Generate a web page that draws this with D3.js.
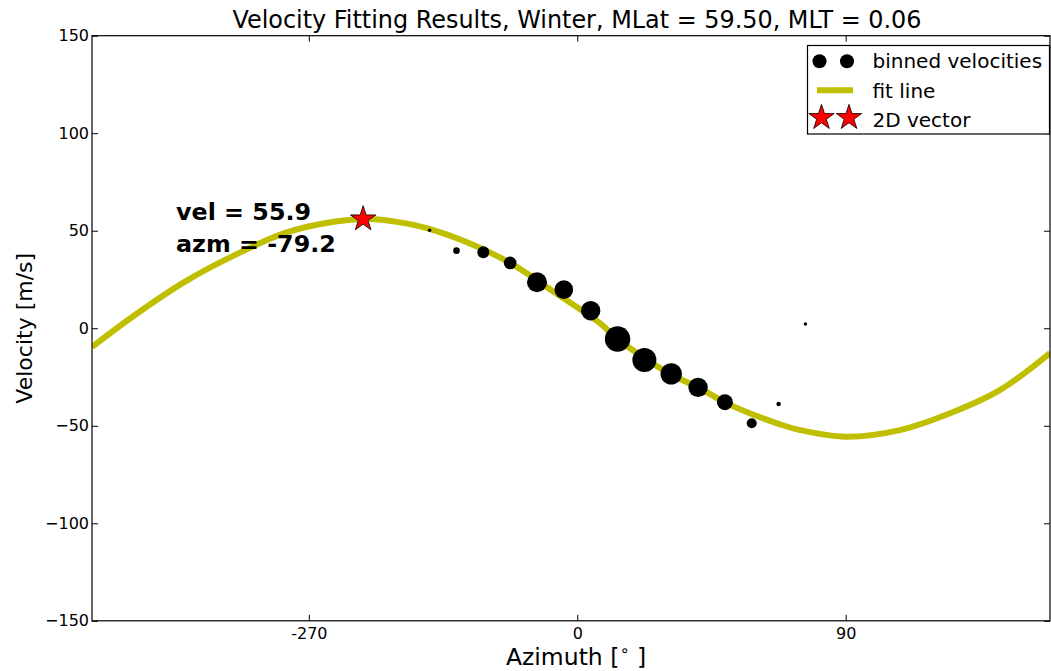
<!DOCTYPE html>
<html>
<head>
<meta charset="utf-8">
<script src="https://cdn.jsdelivr.net/npm/d3@7"></script>
<style>
  body { margin: 0; background: #fff; }
  text { font-family: "DejaVu Sans", sans-serif; }
</style>
</head>
<body>
<div id="canvas"></div>
<script>
"use strict";

/* Data */
let binAzimuth = [-49.5, -40.5, -31.5, -22.5, -13.5, -4.5, 4.5, 13.5, 22.5, 31.5, 40.5, 49.5, 58.5, 67.5, 76.5];
let binVelocity = [50.3, 39.8, 39.0, 33.5, 23.6, 19.8, 9.0, -5.5, -16.3, -23.4, -30.3, -37.9, -48.7, -38.8, 2.2];
let binCount = [3, 11, 36, 40, 100, 87, 94, 161, 144, 114, 94, 64, 25, 5, 3];

let fitAzimuth = [-162.7, -148.3, -131.5, -114.7, -97.9, -81.1, -70, -60, -50.5, -34.8, -21.4, -8, 7.6, 13.2, 30, 40.5, 49.5, 58.5, 67.5, 74.7, 89.8, 108.2, 125, 141.8, 158.5];
let fitVelocity = [-9.6, 6.8, 23.9, 37.6, 48.9, 54.7, 56.0, 54.4, 51.3, 42.7, 32.5, 18.8, 2.6, -5.1, -22.5, -30.3, -38, -44, -49, -52.2, -55.6, -52.2, -43.6, -31.6, -12.7];

let vectorAzimuth = [-71.8];
let vectorVelocity = [56.0];

let xTickValues = [-90, 0, 90];
let xTickLabels = ["-270", "0", "90"];
let yTickValues = [-150, -100, -50, 0, 50, 100, 150];

let titleText = "Velocity Fitting Results, Winter, MLat = 59.50, MLT = 0.06";
let noteLines = ["vel = 55.9", "azm = -79.2"];

/* Drawing setup */
let svgWidth = 1051;
let svgHeight = 671;
let plotLeft = 92, plotRight = 1050, plotTop = 35.7, plotBottom = 620.8;
let fitColor = "#bfbf00";

let svg = d3.select("#canvas")
  .append("svg")
  .attr("width", svgWidth)
  .attr("height", svgHeight);

let xScale = d3.scaleLinear()
  .domain([-162.7, 158.5])
  .range([plotLeft, plotRight]);

let yScale = d3.scaleLinear()
  .domain([-150, 150])
  .range([plotBottom, plotTop]);

let rScale = d3.scaleSqrt()
  .domain([0, d3.max(binCount)])
  .range([0, 12.7]);

svg.append("clipPath").attr("id", "plotClip")
  .append("rect")
  .attr("x", plotLeft).attr("y", plotTop)
  .attr("width", plotRight - plotLeft).attr("height", plotBottom - plotTop);

let plot = svg.append("g").attr("clip-path", "url(#plotClip)");

/* Fit line */
let fitData = fitAzimuth.map((a, i) => ({ az: a, v: fitVelocity[i] }));
plot.append("path")
  .datum(fitData)
  .attr("fill", "none")
  .attr("stroke", fitColor)
  .attr("stroke-width", 6)
  .attr("d", d3.line().curve(d3.curveCatmullRom).x(d => xScale(d.az)).y(d => yScale(d.v)));

/* Binned velocities */
let binData = binAzimuth.map((a, i) => ({ az: a, v: binVelocity[i], n: binCount[i] }));
plot.selectAll("circle.bin")
  .data(binData)
  .join("circle")
  .attr("class", "bin")
  .attr("cx", d => xScale(d.az))
  .attr("cy", d => yScale(d.v))
  .attr("r", d => rScale(d.n))
  .attr("fill", "black");

/* Star marker */
let starPath = d3.symbol().type(d3.symbolStar).size(200);
plot.selectAll("path.vec")
  .data(vectorAzimuth)
  .join("path")
  .attr("class", "vec")
  .attr("transform", (d, i) => `translate(${xScale(d)},${yScale(vectorVelocity[i])})`)
  .attr("d", starPath)
  .attr("fill", "red")
  .attr("stroke", "black")
  .attr("stroke-width", 0.8);

/* Annotation */
noteLines.forEach((t, i) => {
  svg.append("text")
    .attr("x", 176)
    .attr("y", 219.5 + i * 32)
    .attr("font-size", 23.8)
    .attr("font-weight", "bold")
    .text(t);
});

/* Axes with inward ticks */
let tickLen = 6;
let axisG = svg.append("g");

let xBottom = d3.axisBottom(xScale).tickValues(xTickValues)
  .tickFormat((d, i) => xTickLabels[i]).tickSizeInner(-tickLen).tickSizeOuter(0).tickPadding(7);
axisG.append("g").attr("transform", `translate(0,${plotBottom})`).call(xBottom);

let xTop = d3.axisTop(xScale).tickValues(xTickValues)
  .tickFormat("").tickSizeInner(-tickLen).tickSizeOuter(0);
axisG.append("g").attr("transform", `translate(0,${plotTop})`).call(xTop);

let yLeft = d3.axisLeft(yScale).tickValues(yTickValues)
  .tickFormat(d => d < 0 ? "\u2212" + Math.abs(d) : String(d))
  .tickSizeInner(-tickLen).tickSizeOuter(0).tickPadding(3);
axisG.append("g").attr("transform", `translate(${plotLeft},0)`).call(yLeft);

let yRight = d3.axisRight(yScale).tickValues(yTickValues)
  .tickFormat("").tickSizeInner(-tickLen).tickSizeOuter(0);
axisG.append("g").attr("transform", `translate(${plotRight},0)`).call(yRight);

axisG.selectAll(".domain").remove();
axisG.selectAll("text")
  .attr("fill", "black")
  .attr("font-size", 16)
  .attr("font-family", "DejaVu Sans, sans-serif");
axisG.selectAll("line").attr("stroke", "black");

/* Frame */
svg.append("rect")
  .attr("x", plotLeft).attr("y", plotTop)
  .attr("width", plotRight - plotLeft).attr("height", plotBottom - plotTop)
  .attr("fill", "none")
  .attr("stroke", "black")
  .attr("stroke-width", 1.2);

/* Title and axis labels */
svg.append("text")
  .attr("x", (plotLeft + plotRight) / 2 + 6)
  .attr("y", 28)
  .attr("text-anchor", "middle")
  .attr("font-size", 23.9)
  .text(titleText);

let xLabel = svg.append("text")
  .attr("x", (plotLeft + plotRight) / 2 + 5)
  .attr("y", 665)
  .attr("text-anchor", "middle")
  .attr("font-size", 23.5);
xLabel.append("tspan").text("Azimuth [");
xLabel.append("tspan").attr("dy", -9).attr("font-size", 16).text("\u2218");
xLabel.append("tspan").attr("dy", 9).text(" ]");

svg.append("text")
  .attr("transform", `translate(32,${(plotTop + plotBottom) / 2}) rotate(-90)`)
  .attr("text-anchor", "middle")
  .attr("font-size", 22)
  .text("Velocity [m/s]");

/* Legend */
let legend = svg.append("g");
legend.append("rect")
  .attr("x", 807.5).attr("y", 45.5)
  .attr("width", 242).attr("height", 88.5)
  .attr("fill", "white")
  .attr("stroke", "black")
  .attr("stroke-width", 1.2);

[819.5, 847].forEach(cx => {
  legend.append("circle").attr("cx", cx).attr("cy", 61.3).attr("r", 7).attr("fill", "black");
  legend.append("path")
    .attr("transform", `translate(${cx + 2},117.7)`)
    .attr("d", starPath)
    .attr("fill", "red")
    .attr("stroke", "black")
    .attr("stroke-width", 0.8);
});
legend.append("line")
  .attr("x1", 817).attr("x2", 853)
  .attr("y1", 90.3).attr("y2", 90.3)
  .attr("stroke", fitColor)
  .attr("stroke-width", 6);

["binned velocities", "fit line", "2D vector"].forEach((t, i) => {
  legend.append("text")
    .attr("x", 872.5)
    .attr("y", 68.3 + i * 29.2)
    .attr("font-size", 20)
    .text(t);
});
</script>
</body>
</html>
